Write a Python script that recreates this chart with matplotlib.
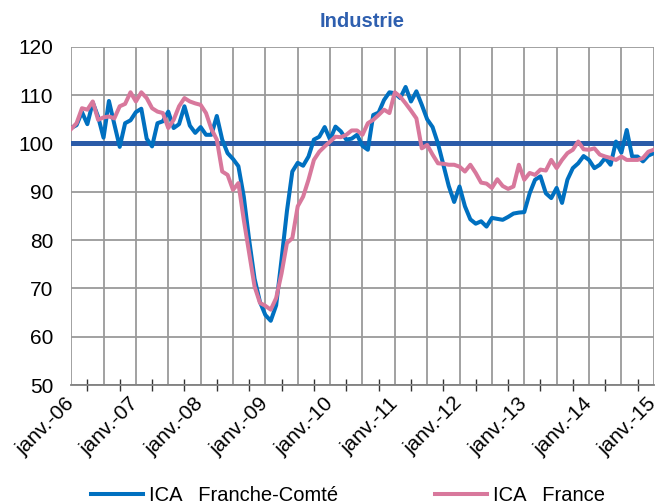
import matplotlib
matplotlib.use("Agg")
import matplotlib.pyplot as plt
from matplotlib.ticker import FixedLocator, FixedFormatter

plt.rcParams['font.family'] = ['Liberation Sans', 'DejaVu Sans']

# monthly index, janv.-06 .. janv.-15
months = list(range(109))

franche_comte = [
    103.2, 103.8, 106.5, 104.0, 108.5, 105.5, 101.2, 108.8, 104.0, 99.3,
    104.2, 104.8, 106.5, 107.2, 101.0, 99.4, 104.2, 104.6, 106.6, 103.2,
    104.0, 107.7, 103.7, 102.2, 103.4, 101.8, 101.8, 105.7, 100.8, 98.0,
    96.8, 95.3, 89.0, 80.0, 72.0, 67.2, 64.5, 63.3, 66.5, 76.0,
    86.0, 94.2, 96.0, 95.4, 97.3, 100.8, 101.4, 103.4, 100.8, 103.5,
    102.5, 100.8, 101.0, 101.8, 99.5, 98.7, 105.9, 106.4, 109.0, 110.6,
    110.4, 109.4, 111.7, 108.7, 110.8, 108.0, 105.0, 103.4, 100.0, 95.6,
    91.2, 87.9, 91.1, 87.0, 84.3, 83.4, 83.9, 82.8, 84.6, 84.4,
    84.2, 84.8, 85.5, 85.7, 85.8, 89.7, 92.5, 93.2, 89.7, 88.7,
    90.8, 87.7, 92.5, 94.9, 95.9, 97.4, 96.6, 94.9, 95.6, 97.0,
    95.6, 100.4, 98.1, 102.8, 97.3, 97.3, 96.3, 97.5, 98.0,
]

france = [
    103.0, 104.2, 107.3, 107.0, 108.7, 104.9, 105.4, 105.6, 105.2, 107.7,
    108.2, 110.6, 108.7, 110.6, 109.4, 107.3, 106.6, 106.3, 103.2, 104.9,
    107.7, 109.4, 108.7, 108.3, 108.0, 106.3, 103.0, 100.8, 94.2, 93.5,
    90.4, 91.8, 84.2, 77.3, 70.4, 67.0, 66.4, 65.6, 68.0, 73.1,
    79.4, 80.4, 87.0, 89.0, 92.5, 96.6, 98.3, 99.4, 100.4, 101.4,
    101.3, 101.8, 102.7, 102.7, 101.8, 104.2, 104.9, 105.9, 107.0, 106.3,
    110.6, 109.7, 108.3, 106.8, 105.2, 99.0, 99.7, 97.7, 95.9, 95.8,
    95.6, 95.6, 95.2, 94.2, 95.6, 93.9, 91.9, 91.7, 90.8, 92.6,
    91.2, 90.6, 91.1, 95.6, 92.5, 93.9, 93.5, 94.6, 94.4, 96.6,
    94.9, 96.6, 98.0, 98.7, 100.4, 98.8, 98.7, 99.0, 97.7, 97.3,
    97.0, 96.6, 97.3, 96.6, 96.6, 96.6, 97.0, 98.3, 98.7,
]

year_labels = ["janv.-06", "janv.-07", "janv.-08", "janv.-09", "janv.-10",
               "janv.-11", "janv.-12", "janv.-13", "janv.-14", "janv.-15"]

BLUE = "#0070C0"
PINK = "#D8789C"
REF = "#2B5BA8"
GRID = "#9A9A9A"

fig = plt.figure(figsize=(6.59, 5.04), dpi=100)
ax = fig.add_axes([0.108, 0.236, 0.884, 0.671])

ax.axhline(100, color=REF, lw=3.6, zorder=2)
ax.plot(months, franche_comte, color=BLUE, lw=2.9, label="ICA   Franche-Comté", zorder=3)
ax.plot(months, france, color=PINK, lw=2.9, label="ICA   France", zorder=4)

ax.set_xlim(0, 108)
ax.set_ylim(50, 120)
ax.set_yticks(range(50, 121, 10))

# gridlines every 6 months (minor), labels every january
six = list(range(0, 109, 6))
ax.xaxis.set_minor_locator(FixedLocator(six))
ax.xaxis.set_minor_formatter(FixedFormatter([year_labels[i // 2] if i % 2 == 0 else "" for i in range(len(six))]))
# small tick marks in between
ax.xaxis.set_major_locator(FixedLocator(list(range(3, 108, 6))))
ax.xaxis.set_major_formatter(FixedFormatter([""] * 18))

ax.grid(False)
ax.grid(True, which="minor", axis="x", color=GRID, lw=1.3)
ax.grid(True, which="major", axis="y", color=GRID, lw=1.3)
ax.set_axisbelow(True)

ax.tick_params(axis="x", which="major", direction="inout", length=8, width=1, color="#333333")
ax.tick_params(axis="x", which="minor", length=0, pad=11, labelsize=15)
ax.tick_params(axis="y", length=0, pad=13, labelsize=15)
for lab in ax.xaxis.get_minorticklabels():
    lab.set_rotation(45)
    lab.set_ha("right")
    lab.set_va("center")
    lab.set_rotation_mode("anchor")

for s in ["top", "right", "left"]:
    ax.spines[s].set_visible(False)
ax.spines["bottom"].set_color("#808080")
ax.spines["bottom"].set_linewidth(1.3)

ax.set_title("Industrie", fontsize=14.5, fontweight="bold", color="#2E5FAF", pad=14)

fig.legend(loc="lower center", bbox_to_anchor=(0.528, -0.038), ncol=2, frameon=False,
           fontsize=14.5, handlelength=2.6, handletextpad=0.3, columnspacing=4.8)

fig.savefig("out.png", dpi=100)
